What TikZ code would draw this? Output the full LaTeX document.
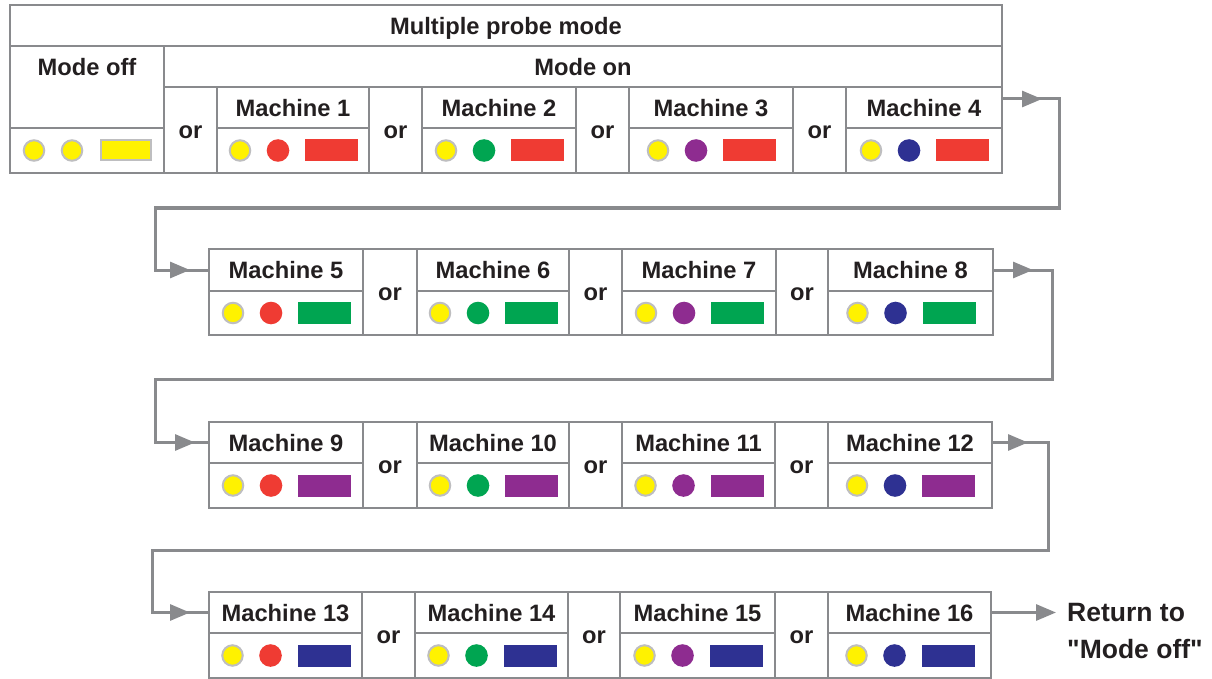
\documentclass[tikz,border=0pt]{standalone}
\usepackage{fontspec}
\setmainfont{Liberation Sans}[Ligatures=TeXOff]
\usetikzlibrary{arrows.meta}
\definecolor{lg}{RGB}{137,138,141}
\definecolor{cg}{RGB}{190,190,192}
\definecolor{ylw}{RGB}{255,242,0}
\definecolor{rd}{RGB}{239,59,51}
\definecolor{gn}{RGB}{0,165,81}
\definecolor{pp}{RGB}{142,44,144}
\definecolor{nv}{RGB}{46,49,146}
\definecolor{tx}{RGB}{35,31,32}
% #1 id, #2 left, #3 right, #4 top, #5 mid, #6 bottom, #7 label, #8 dot colour, #9 lamp colour
\newcommand\mach[9]{%
  \node[cellbox,minimum width={(#3-#2)*1pt},minimum height={(#5-#4)*1pt}] (#1h) at ({(#2+#3)/2},{(#4+#5)/2}) {#7};
  \node[cellbox,minimum width={(#3-#2)*1pt},minimum height={(#6-#5)*1pt}] (#1i) at ({(#2+#3)/2},{(#5+#6)/2}) {};
  \node[ydot] (#1a) at ([xshift=-53pt]#1i.center) {};
  \node[cdot,fill=#8] (#1b) at ([xshift=-15pt]#1i.center) {};
  \node[lamp,fill=#9] (#1c) at ([xshift=38.5pt]#1i.center) {};
}
% #1 id, #2 left, #3 right, #4 top, #5 bottom
\newcommand\orc[5]{%
  \node[cellbox,minimum width={(#3-#2)*1pt},minimum height={(#5-#4)*1pt}] (#1) at ({(#2+#3)/2},{(#4+#5)/2}) {};
  \node[txtonly] (#1t) at ([yshift=-2pt]#1.center) {or};
}
\begin{document}
\begin{tikzpicture}[x=1pt,y=-1pt,
  cellbox/.style={draw=lg,line width=1.5pt,inner sep=0pt,outer sep=0pt,text=tx,
    font=\bfseries\fontsize{23.7}{28}\selectfont,text depth=0pt},
  txtonly/.style={inner sep=0pt,outer sep=0pt,text=tx,
    font=\bfseries\fontsize{23.7}{28}\selectfont,text depth=0pt},
  ydot/.style={circle,fill=ylw,draw=cg,line width=2pt,minimum size=20.5pt,inner sep=0pt},
  cdot/.style={circle,minimum size=22.6pt,inner sep=0pt},
  lamp/.style={rectangle,minimum width=53pt,minimum height=22pt,inner sep=0pt},
  frame/.style={draw=lg,line width=2.5pt},
  conn/.style={draw=lg,line width=3pt},
  tip/.style={-{Triangle[length=20pt,width=16pt]}}]
\useasboundingbox (0,0) rectangle (1212,679);

% ---------- top table ----------
\node[cellbox,minimum width=992pt,minimum height=41pt] (mph) at (506,25.5) {Multiple probe mode};
\node[cellbox,minimum width=154pt,minimum height=82pt] (moh) at (87,87) {};
\node[txtonly] (mot) at (87,66.5) {Mode off};
\node[cellbox,minimum width=154pt,minimum height=45pt] (moi) at (87,150.5) {};
\node[ydot] (moa) at ([xshift=-53pt]moi.center) {};
\node[ydot] (mob) at ([xshift=-15pt]moi.center) {};
\node[lamp,fill=ylw,draw=cg,line width=2pt,minimum width=50pt,minimum height=20pt] (moc) at ([xshift=39pt]moi.center) {};
\node[cellbox,minimum width=838pt,minimum height=41pt] (mon) at (583,66.5) {Mode on};

\orc{o1}{164}{217}{87}{173}
\mach{m1}{217}{369}{87}{128}{173}{Machine 1}{rd}{rd}
\orc{o2}{369}{422}{87}{173}
\mach{m2}{422}{576}{87}{128}{173}{Machine 2}{gn}{rd}
\orc{o3}{576}{629}{87}{173}
\mach{m3}{629}{793}{87}{128}{173}{Machine 3}{pp}{rd}
\orc{o4}{793}{846}{87}{173}
\mach{m4}{846}{1002}{87}{128}{173}{Machine 4}{nv}{rd}
\draw[frame] (mph.north west) rectangle (m4i.south east);

% ---------- row 2 ----------
\mach{m5}{209}{363}{249}{291}{335}{Machine 5}{rd}{gn}
\orc{o5}{363}{417}{249}{335}
\mach{m6}{417}{569}{249}{291}{335}{Machine 6}{gn}{gn}
\orc{o6}{569}{622}{249}{335}
\mach{m7}{622}{776}{249}{291}{335}{Machine 7}{pp}{gn}
\orc{o7}{776}{828}{249}{335}
\mach{m8}{828}{993}{249}{291}{335}{Machine 8}{nv}{gn}
\draw[frame] (m5h.north west) rectangle (m8i.south east);

% ---------- row 3 ----------
\mach{m9}{209}{363}{422}{463}{508}{Machine 9}{rd}{pp}
\orc{o9}{363}{417}{422}{508}
\mach{m10}{417}{569}{422}{463}{508}{Machine 10}{gn}{pp}
\orc{o10}{569}{622}{422}{508}
\mach{m11}{622}{775}{422}{463}{508}{Machine 11}{pp}{pp}
\orc{o11}{775}{828}{422}{508}
\mach{m12}{828}{992}{422}{463}{508}{Machine 12}{nv}{pp}
\draw[frame] (m9h.north west) rectangle (m12i.south east);

% ---------- row 4 ----------
\mach{m13}{209}{362}{592}{633}{678}{Machine 13}{rd}{nv}
\orc{o13}{362}{415}{592}{678}
\mach{m14}{415}{568}{592}{633}{678}{Machine 14}{gn}{nv}
\orc{o14}{568}{620}{592}{678}
\mach{m15}{620}{775}{592}{633}{678}{Machine 15}{pp}{nv}
\orc{o15}{775}{828}{592}{678}
\mach{m16}{828}{991}{592}{633}{678}{Machine 16}{nv}{nv}
\draw[frame] (m13h.north west) rectangle (m16i.south east);

\node[anchor=north west,inner sep=0pt,align=left,text=tx,
  font=\bfseries\fontsize{26.5}{37.5}\selectfont] (ret) at (1067,603) {Return to\\"Mode off"};

% ---------- connectors ----------
\draw[conn] ([yshift=8.5pt]m4h.east) -| (1059,208) -| ([xshift=-54pt]m5h.west) -- (m5h.west);
\draw[conn,tip] ([yshift=8.5pt]m4h.east) -- ++(40,0);
\draw[conn,tip] ([xshift=-54pt]m5h.west) -- ([xshift=-19pt]m5h.west);

\draw[conn] (m8h.east) -| (1052,379) -| ([xshift=-54pt]m9h.west) -- (m9h.west);
\draw[conn,tip] (m8h.east) -- ++(40,0);
\draw[conn,tip] ([xshift=-54pt]m9h.west) -- ([xshift=-14pt]m9h.west);

\draw[conn] (m12h.east) -| (1048,550) -| ([xshift=-57pt]m13h.west) -- (m13h.west);
\draw[conn,tip] (m12h.east) -- ++(36,0);
\draw[conn,tip] ([xshift=-57pt]m13h.west) -- ([xshift=-19pt]m13h.west);

\draw[conn,tip] (m16h.east) -- ++(65,0);
\end{tikzpicture}
\end{document}
